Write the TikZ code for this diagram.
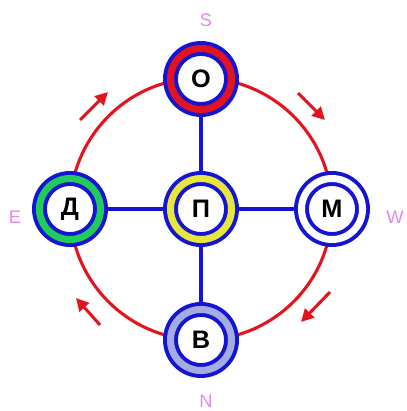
\documentclass[tikz,border=0pt]{standalone}
\usepackage{fontspec}
\setmainfont{Liberation Sans}
\usetikzlibrary{arrows.meta}
\definecolor{ringblue}{HTML}{1414D2}
\definecolor{ringred}{HTML}{E2141E}
\definecolor{ringgreen}{HTML}{22CC5A}
\definecolor{ringyellow}{HTML}{E6E63C}
\definecolor{ringgrey}{HTML}{A4ACE2}
\definecolor{compasspink}{HTML}{E488E8}

\begin{document}
\begin{tikzpicture}[
  x=0.025cm,
  y=-0.025cm,
  every node/.style={font=\fontsize{18}{20}\selectfont\bfseries},
  station/.style={circle, minimum size=1.525cm, inner sep=0pt,
               outer sep=0.19cm, draw=ringblue, line width=2.8pt,
               double distance=5pt, fill=white},
  orbit/.style={ringred, line width=2.2pt},
  spoke/.style={ringblue, line width=2.2pt},
  turn/.style={ringred, line width=2.2pt,
               -{Triangle[length=9pt, width=9pt]}},
  compass/.style={font=\fontsize{13}{15}\selectfont, compasspink}
]
  \useasboundingbox (0,0) rectangle (406,411);

  % ---- the red ring through the four outer stations -------------------
  \draw[orbit] (201,209) circle[radius=131];

  % ---- stations ---------------------------------------------------------
  \node[station, double=ringred]    (o) at (201,79)  {О};
  \node[station, double=ringgreen]  (d) at (70,209)  {Д};
  \node[station, double=ringyellow] (p) at (201,209) {П};
  \node[station, double=white]      (m) at (332,209) {М};
  \node[station, double=ringgrey]   (v) at (201,340) {В};

  % ---- spokes from the middle ------------------------------------------
  \draw[spoke] (p) -- (o);
  \draw[spoke] (p) -- (d);
  \draw[spoke] (p) -- (m);
  \draw[spoke] (p) -- (v);

  % ---- direction of travel, clockwise -----------------------------------
  \draw[turn] (80,120) -- (108,92);
  \draw[turn] (298,93) -- (325,120);
  \draw[turn] (330,292) -- (301,322);
  \draw[turn] (100,325) -- (76,298);

  % ---- compass letters ---------------------------------------------------
  \node[compass] (s) at (206,20)  {S};
  \node[compass] (e) at (15,217)  {E};
  \node[compass, anchor=west, inner sep=0pt] (w) at (386,217) {W};
  \node[compass] (n) at (206,401) {N};
\end{tikzpicture}
\end{document}
